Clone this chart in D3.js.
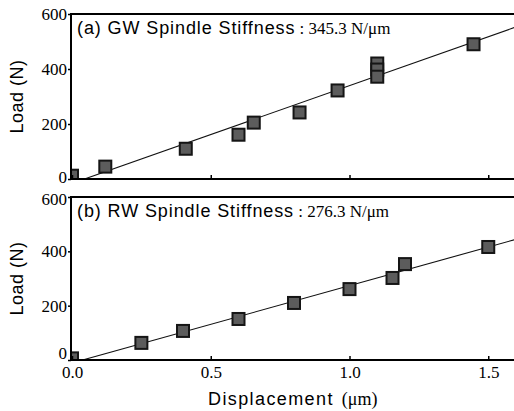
<html>
<head>
<meta charset="utf-8">
<script src="https://d3js.org/d3.v7.min.js"></script>
<style>
  body { margin: 0; background: #fff; }
</style>
</head>
<body>
<script>
// data
var gwDisp = [0.0, 0.12, 0.41, 0.60, 0.655, 0.82, 0.957, 1.10, 1.10, 1.10, 1.447];
var gwLoad = [12, 45, 110, 161, 205, 242, 322, 420, 398, 372, 490];
var gwFit = [[0.045, 0], [1.62, 560]];

var rwDisp = [0.0, 0.25, 0.40, 0.60, 0.80, 1.00, 1.155, 1.20, 1.50];
var rwLoad = [6, 63, 107, 151, 210, 261, 302, 353, 416];
var rwFit = [[0.038, 0], [1.62, 450]];

var xTicks = [0.0, 0.5, 1.0, 1.5];
var yTicks = [0, 200, 400, 600];

var width = 514, height = 411;
var svg = d3.select("body").append("svg")
  .attr("width", width).attr("height", height);

var x = d3.scaleLinear().domain([0, 1.6]).range([72, 516]);

var serif = "'Liberation Serif', 'Times New Roman', serif";
var sans = "'Liberation Sans', Arial, sans-serif";

function panel(id, top, bottom, disp, load, fit, label, stiff, showX) {
  var y = d3.scaleLinear().domain([0, 600]).range([bottom, top]);
  var g = svg.append("g");

  g.append("clipPath").attr("id", "clip" + id)
    .append("rect").attr("x", 72).attr("y", top).attr("width", 450).attr("height", bottom - top);

  var plot = g.append("g").attr("clip-path", "url(#clip" + id + ")");

  plot.append("line")
    .attr("x1", x(fit[0][0])).attr("y1", y(fit[0][1]))
    .attr("x2", x(fit[1][0])).attr("y2", y(fit[1][1]))
    .attr("stroke", "#111").attr("stroke-width", 1.1);

  plot.selectAll("rect.pt").data(disp).enter().append("rect")
    .attr("class", "pt")
    .attr("x", function(d) { return x(d) - 6; })
    .attr("y", function(d, i) { return y(load[i]) - 6; })
    .attr("width", 12).attr("height", 12)
    .attr("fill", "#5c5c5c").attr("stroke", "#151515").attr("stroke-width", 2);

  // frame
  g.append("line").attr("x1", 71).attr("x2", 520).attr("y1", top).attr("y2", top)
    .attr("stroke", "#000").attr("stroke-width", 2);
  g.append("line").attr("x1", 71).attr("x2", 520).attr("y1", bottom).attr("y2", bottom)
    .attr("stroke", "#000").attr("stroke-width", 2);
  g.append("line").attr("x1", 71).attr("x2", 71).attr("y1", top - 1).attr("y2", bottom + 1)
    .attr("stroke", "#000").attr("stroke-width", 2);

  var ya = d3.axisLeft(y).tickValues(yTicks).tickSize(3).tickPadding(1).tickFormat(d3.format("d"));
  var yg = g.append("g").attr("transform", "translate(71,0)").call(ya);
  yg.select(".domain").remove();
  yg.selectAll("line").attr("stroke-width", 1.5);
  yg.selectAll("text").attr("font-family", serif).attr("font-size", 17).attr("fill", "#000")
    .attr("dy", function(d) {
      if (d === 0) return showX ? "-0.08em" : "0.2em";
      if (d === 600 && showX) return "0.42em";
      return "0.32em";
    });

  var xa = d3.axisBottom(x).tickValues(xTicks).tickSize(-4).tickPadding(showX ? 5 : 0)
    .tickFormat(showX ? d3.format(".1f") : "");
  var xg = g.append("g").attr("transform", "translate(0," + bottom + ")").call(xa);
  xg.select(".domain").remove();
  xg.selectAll("line").attr("stroke-width", 1.5);
  xg.selectAll("text").attr("font-family", serif).attr("font-size", 17).attr("fill", "#000")
    .attr("dy", "0.74em");

  var t = g.append("text").attr("x", 77).attr("y", top + 20);
  t.append("tspan").attr("font-family", sans).attr("font-size", 18)
    .attr("letter-spacing", 0.9).text(label);
  t.append("tspan").attr("font-family", serif).attr("font-size", 17).text(" : " + stiff + " N/\u03bcm");

  g.append("text")
    .attr("transform", "translate(23," + ((top + bottom) / 2) + ") rotate(-90)")
    .attr("text-anchor", "middle").attr("font-family", sans).attr("font-size", 18)
    .attr("letter-spacing", 0.5)
    .text("Load (N)");
}

panel("a", 14, 179, gwDisp, gwLoad, gwFit, "(a) GW Spindle Stiffness", "345.3", false);
panel("b", 197, 360, rwDisp, rwLoad, rwFit, "(b) RW Spindle Stiffness", "276.3", true);

var xt = svg.append("text").attr("x", 208).attr("y", 405);
xt.append("tspan").attr("font-family", sans).attr("font-size", 18)
  .attr("letter-spacing", 1.4).text("Displacement");
xt.append("tspan").attr("font-family", serif).attr("font-size", 18).attr("dx", 8).text("(\u03bcm)");
</script>
</body>
</html>
